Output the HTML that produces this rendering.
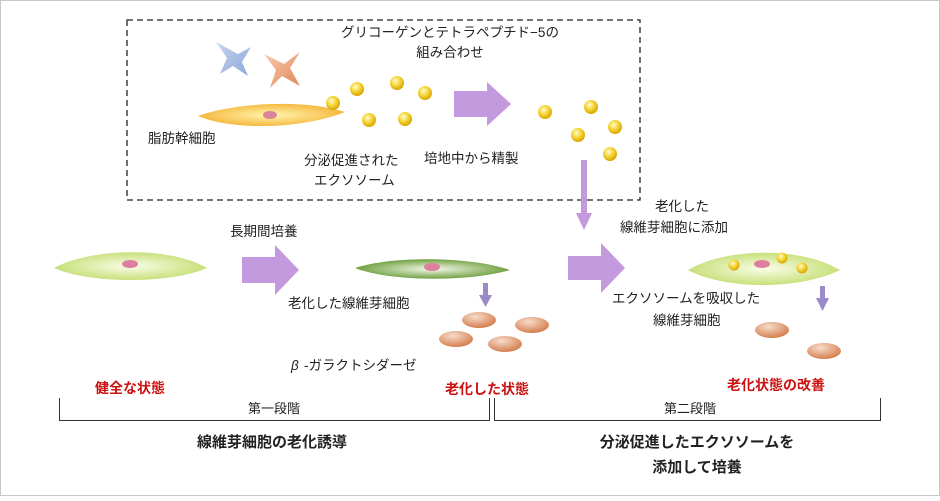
<!DOCTYPE html>
<html><head><meta charset="utf-8"><style>
body{margin:0;background:#fff}
svg text{font-family:"Liberation Sans","Noto Sans CJK JP",sans-serif;fill:#222}
</style></head><body>
<svg width="940" height="496" viewBox="0 0 940 496" xmlns="http://www.w3.org/2000/svg">
<defs>
<radialGradient id="dot" cx="40%" cy="35%" r="65%"><stop offset="0" stop-color="#fffbd0"/><stop offset="0.5" stop-color="#f5d63a"/><stop offset="1" stop-color="#d9a500"/></radialGradient>
<radialGradient id="yc" cx="50%" cy="50%" r="50%"><stop offset="0" stop-color="#fff6b0"/><stop offset="1" stop-color="#f5b940"/></radialGradient>
<radialGradient id="gc" cx="50%" cy="50%" r="50%"><stop offset="0" stop-color="#fafde8"/><stop offset="1" stop-color="#c8e07a"/></radialGradient>
<radialGradient id="dg" cx="50%" cy="50%" r="50%"><stop offset="0" stop-color="#f3f8e8"/><stop offset="1" stop-color="#6fa040"/></radialGradient>
<radialGradient id="br" cx="40%" cy="30%" r="70%"><stop offset="0" stop-color="#f7dccb"/><stop offset="1" stop-color="#d47f4e"/></radialGradient>
<linearGradient id="bs" x1="0" y1="0" x2="1" y2="1"><stop offset="0" stop-color="#c9d6ef"/><stop offset="1" stop-color="#8aa6d8"/></linearGradient>
<linearGradient id="os" x1="0" y1="0" x2="1" y2="1"><stop offset="0" stop-color="#f8cbb0"/><stop offset="1" stop-color="#e0885a"/></linearGradient>
</defs>
<rect x="0.5" y="0.5" width="939" height="495" fill="#fff" stroke="#c8c8c8"/>
<rect x="127" y="20" width="513" height="180" fill="none" stroke="#222" stroke-width="1.3" stroke-dasharray="6,4"/>
<text x="450" y="37" font-size="13.5" text-anchor="middle">グリコーゲンとテトラペプチド−5の</text>
<text x="450" y="57" font-size="13.5" text-anchor="middle">組み合わせ</text>
<path d="M216,42 L238,54 L251,47 L242,62 L248,76 L233,66 L220,74 L227,58Z" fill="url(#bs)"/>
<path d="M264,54 L284,64 L300,52 L290,68 L300,86 L282,76 L270,88 L276,70Z" fill="url(#os)"/>
<path d="M198,116 C230,104 300,98 345,112 C300,130 230,130 198,116Z" fill="url(#yc)"/>
<ellipse cx="270" cy="115" rx="7" ry="4" fill="#d9849a"/>
<g fill="url(#dot)">
<circle cx="333" cy="103" r="7"/><circle cx="357" cy="89" r="7"/><circle cx="397" cy="83" r="7"/><circle cx="425" cy="93" r="7"/><circle cx="369" cy="120" r="7"/><circle cx="405" cy="119" r="7"/>
<circle cx="545" cy="112" r="7"/><circle cx="591" cy="107" r="7"/><circle cx="615" cy="127" r="7"/><circle cx="578" cy="135" r="7"/><circle cx="610" cy="154" r="7"/>
</g>
<path d="M454,91 H487 V82 L511,104 L487,126 V117 H454Z" fill="#c39ade"/>
<text x="148" y="143" font-size="13.5">脂肪幹細胞</text>
<text x="304" y="165" font-size="13.5">分泌促進された</text>
<text x="314" y="185" font-size="13.5">エクソソーム</text>
<text x="424" y="163" font-size="13.5">培地中から精製</text>
<rect x="581" y="160" width="6" height="55" fill="#c39ade"/>
<path d="M576,213 H592 L584,230Z" fill="#c39ade"/>
<path d="M54,268 C90,248 170,246 207,268 C170,284 90,284 54,268Z" fill="url(#gc)"/>
<ellipse cx="130" cy="264" rx="8" ry="4" fill="#de7fa0"/>
<text x="230" y="236" font-size="13.5">長期間培養</text>
<path d="M242,257 H275 V245 L299,270 L275,295 V283 H242Z" fill="#c39ade"/>
<path d="M355,268 C390,256 470,256 510,270 C470,282 390,282 355,268Z" fill="url(#dg)"/>
<ellipse cx="432" cy="267" rx="8" ry="4" fill="#de7fa0"/>
<text x="288" y="308" font-size="13.5">老化した線維芽細胞</text>
<rect x="483" y="283" width="5" height="13" fill="#9b8ac9"/><path d="M479,295 H492 L485.5,307Z" fill="#9b8ac9"/>
<g fill="url(#br)">
<ellipse cx="479" cy="320" rx="17" ry="8"/><ellipse cx="532" cy="325" rx="17" ry="8"/><ellipse cx="456" cy="339" rx="17" ry="8"/><ellipse cx="505" cy="344" rx="17" ry="8"/>
<ellipse cx="772" cy="330" rx="17" ry="8"/><ellipse cx="824" cy="351" rx="17" ry="8"/>
</g>
<text x="291" y="370" font-size="13.5" font-style="italic">β</text><text x="304" y="370" font-size="13.5">-ガラクトシダーゼ</text>
<text x="655" y="211" font-size="13.5">老化した</text>
<text x="620" y="232" font-size="13.5">線維芽細胞に添加</text>
<path d="M568,256 H601 V243 L625,268 L601,293 V280 H568Z" fill="#c39ade"/>
<path d="M688,270 C725,248 800,246 840,270 C800,290 725,290 688,270Z" fill="url(#gc)"/>
<ellipse cx="762" cy="264" rx="8" ry="4" fill="#de7fa0"/>
<g fill="url(#dot)"><circle cx="734" cy="265" r="5.5"/><circle cx="782" cy="258" r="5.5"/><circle cx="802" cy="268" r="5.5"/></g>
<text x="612" y="303" font-size="13.5">エクソソームを吸収した</text>
<text x="653" y="325" font-size="13.5">線維芽細胞</text>
<rect x="820" y="286" width="5" height="13" fill="#9b8ac9"/><path d="M816,298 H829 L822.5,311Z" fill="#9b8ac9"/>
<g font-size="14" font-weight="bold">
<text x="95" y="393" style="fill:#cc1111">健全な状態</text>
<text x="445" y="394" style="fill:#cc1111">老化した状態</text>
<text x="727" y="390" style="fill:#cc1111">老化状態の改善</text>
</g>
<path d="M59.5,398 V420.5 H489.5 V398" fill="none" stroke="#333"/>
<path d="M494.5,398 V420.5 H880.5 V398" fill="none" stroke="#333"/>
<text x="274" y="413" font-size="13" text-anchor="middle">第一段階</text>
<text x="690" y="413" font-size="13" text-anchor="middle">第二段階</text>
<text x="272" y="447" font-size="15" font-weight="bold" text-anchor="middle">線維芽細胞の老化誘導</text>
<text x="697" y="447" font-size="15" font-weight="bold" text-anchor="middle">分泌促進したエクソソームを</text>
<text x="697" y="472" font-size="15" font-weight="bold" text-anchor="middle">添加して培養</text>
</svg>
</body></html>
